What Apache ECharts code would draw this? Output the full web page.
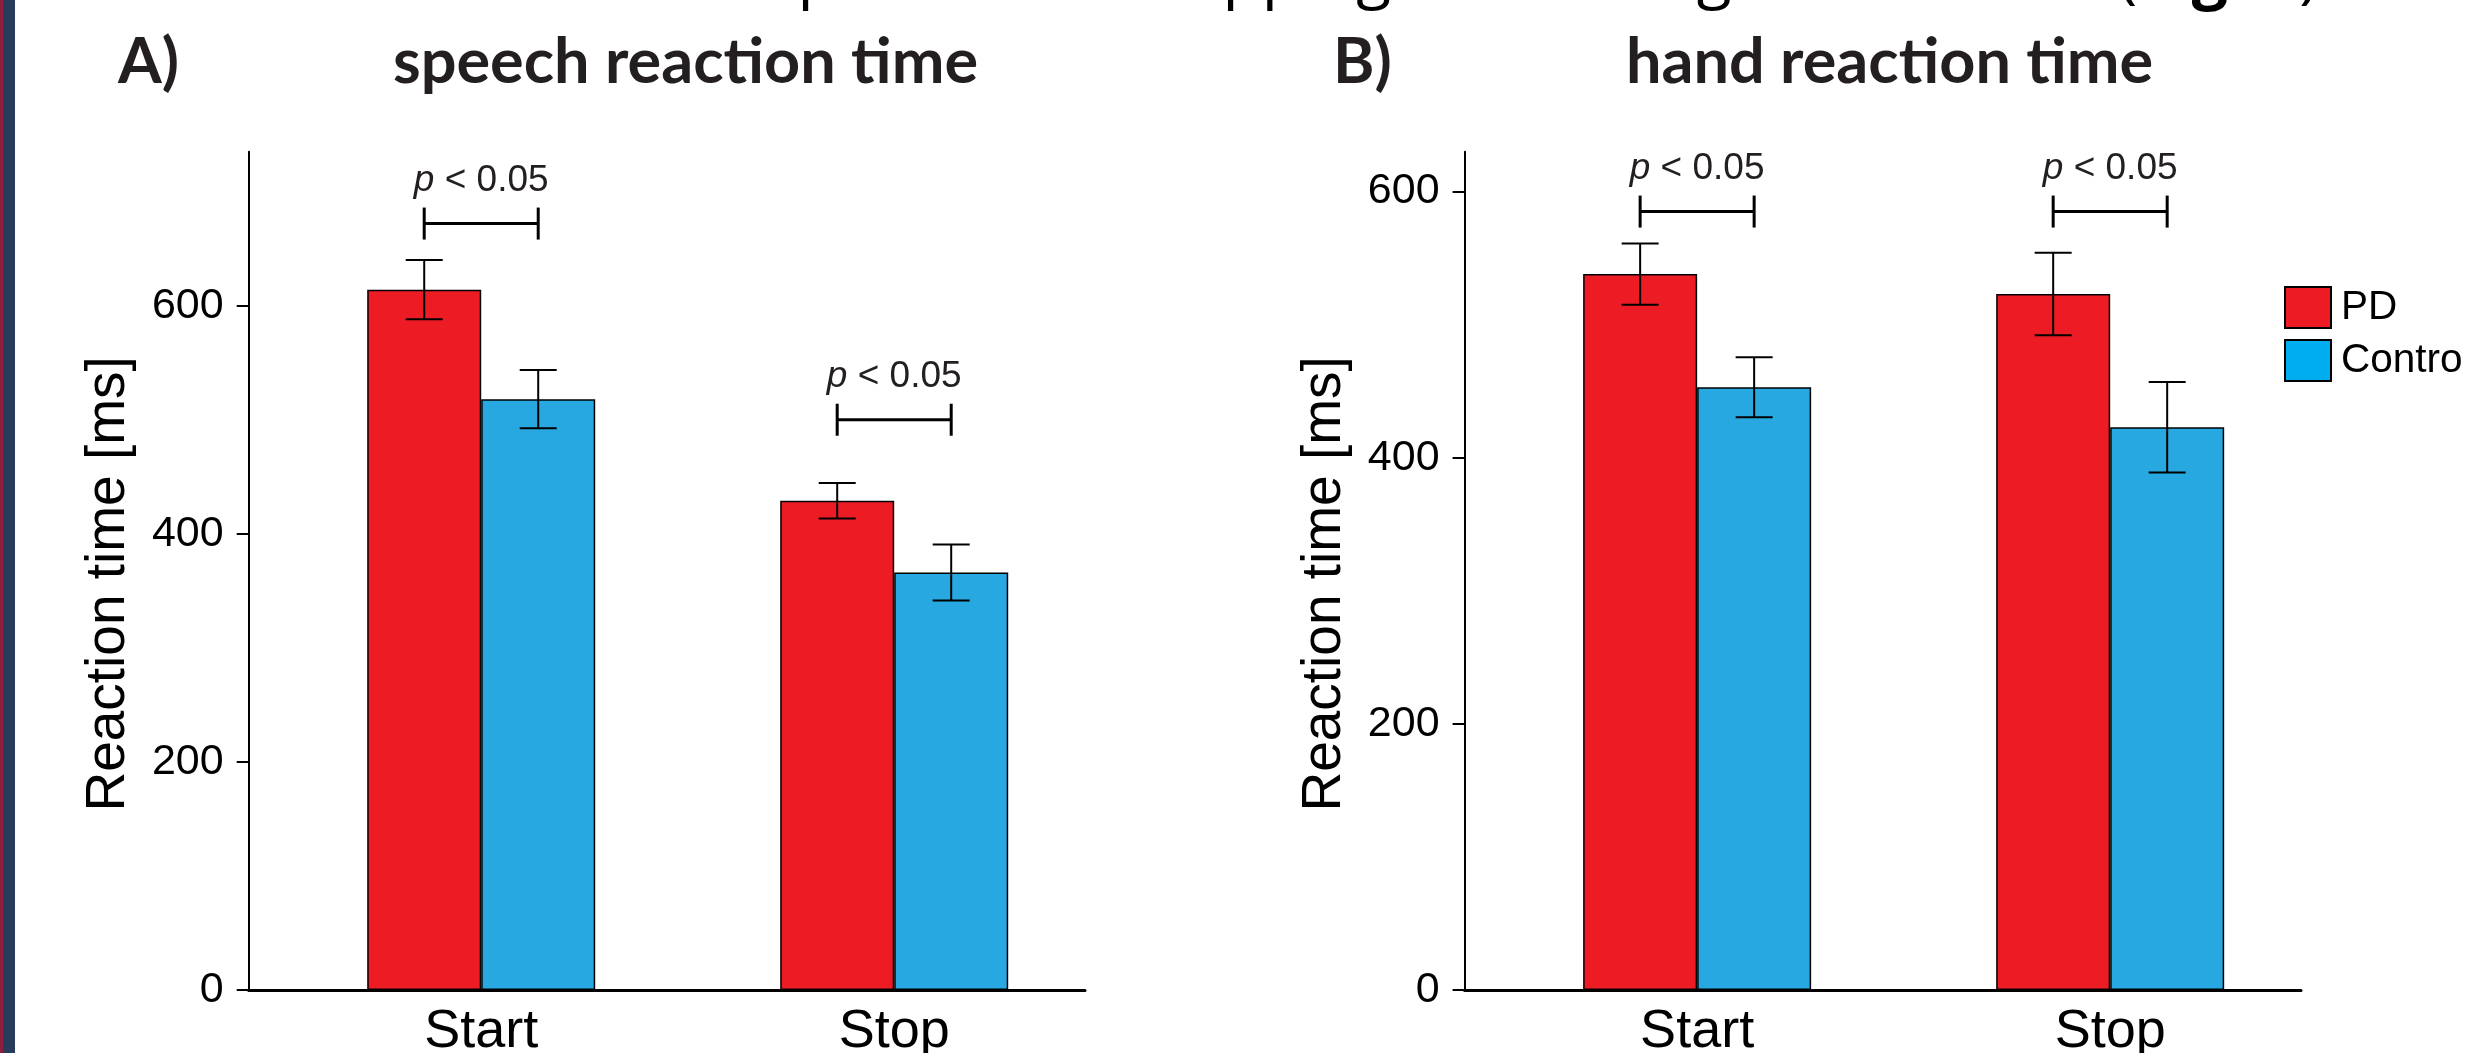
<!DOCTYPE html>
<html><head><meta charset="utf-8">
<script src="https://cdn.jsdelivr.net/npm/echarts@6/dist/echarts.min.js"></script>
<style>html,body{margin:0;padding:0;background:#fff}#c{width:2465px;height:1053px}</style>
</head><body><div id="c"></div>
<script>
// ---- data ----
const categories = ['Start', 'Stop'];
const groupNames = ['PD', 'Control'];
const speechPD = [614, 429];
const speechPDErr = [26, 15.5];
const speechControl = [518, 366];
const speechControlErr = [25.5, 24.5];
const handPD = [538, 523];
const handPDErr = [23, 31];
const handControl = [453, 423];
const handControlErr = [22.5, 34];
const speechBracket = [672, 500];
const handBracket = [585, 585];
const pLabel = '< 0.05';
const yTicks = [0, 200, 400, 600];
const panelTitles = ['speech reaction time', 'hand reaction time'];
const panelLetters = ['A)', 'B)'];
const yAxisTitle = 'Reaction time [ms]';
const topSentence = ['and faster responses for stopping vs. starting movements (', 'Fig. 2', ').'];

// ---- style ----
const RED = '#ED1C24', BLUE = '#27A8E0', LEGEND_BLUE = '#00AEEF', INK = '#231F20';
const BAR_W = 114;
const AX_FONT = 'Liberation Sans, Arial, Helvetica, sans-serif';
const catPos = categories.map((c, i) => i + 1);

const chart = echarts.init(document.getElementById('c'), null, {renderer: 'canvas'});

function pairs(vals, errs) { return vals.map((v, i) => errs ? [catPos[i], v, errs[i]] : [catPos[i], v]); }

function errRender(side) {
  return function (params, api) {
    const x = api.value(0), m = api.value(1), e = api.value(2);
    const top = api.coord([x, m + e]);
    const bot = api.coord([x, m - e]);
    const cx = top[0] + side * BAR_W / 2;
    const h = 18.5;
    const st = {stroke: '#000', lineWidth: 2};
    return {type: 'group', children: [
      {type: 'line', shape: {x1: cx, y1: top[1], x2: cx, y2: bot[1]}, style: st},
      {type: 'line', shape: {x1: cx - h, y1: top[1], x2: cx + h, y2: top[1]}, style: st},
      {type: 'line', shape: {x1: cx - h, y1: bot[1], x2: cx + h, y2: bot[1]}, style: st}
    ]};
  };
}
function bracketRender(params, api) {
  const x = api.value(0), v = api.value(1);
  const c = api.coord([x, v]);
  const x1 = c[0] - BAR_W / 2, x2 = c[0] + BAR_W / 2, y = c[1];
  const st = {stroke: '#000', lineWidth: 3};
  return {type: 'group', children: [
    {type: 'line', shape: {x1: x1, y1: y, x2: x2, y2: y}, style: st},
    {type: 'line', shape: {x1: x1, y1: y - 16, x2: x1, y2: y + 16}, style: st},
    {type: 'line', shape: {x1: x2, y1: y - 16, x2: x2, y2: y + 16}, style: st},
    {type: 'text', style: {
      x: c[0], y: y - 43, text: '{i|p} ' + pLabel, align: 'center', verticalAlign: 'middle',
      font: '37px ' + AX_FONT, fill: INK,
      rich: {i: {fontStyle: 'italic', fontSize: 37, fontFamily: AX_FONT, fill: INK}}
    }}
  ]};
}

function yAxisFor(idx, max) {
  return {
    gridIndex: idx, type: 'value', min: 0, max: max, interval: 200,
    name: yAxisTitle, nameLocation: 'middle', nameGap: 112,
    nameTextStyle: {fontSize: 55, fontFamily: AX_FONT, color: '#000', padding: [0, 26, 0, 0]},
    axisLine: {show: true, lineStyle: {color: '#000', width: 2}},
    axisTick: {show: true, inside: false, length: 12, customValues: yTicks, lineStyle: {color: '#000', width: 2}},
    axisLabel: {customValues: yTicks, fontSize: 43, fontFamily: AX_FONT, color: '#000', margin: 25},
    splitLine: {show: false}
  };
}
function xAxisFor(idx) {
  return {
    gridIndex: idx, type: 'value', min: 0.437, max: 2.462,
    axisLine: {show: true, onZero: true, lineStyle: {color: '#000', width: 3}},
    axisTick: {show: false},
    axisLabel: {customValues: catPos, formatter: v => categories[Math.round(v) - 1] || '',
      fontSize: 54, fontFamily: AX_FONT, color: '#000', margin: 15},
    splitLine: {show: false}
  };
}
const barStyle = c => ({color: c, borderColor: '#000', borderWidth: 1.5});
const TITLE_FONT = 'bold 63px Lato';

const option = {
  backgroundColor: '#fff',
  animation: false,
  graphic: [
    {type: 'rect', left: 0, top: 0, shape: {width: 15, height: 1053}, style: {fill: '#273B5C'}, silent: true},
    {type: 'rect', left: 0, top: 0, shape: {width: 3, height: 1053}, style: {fill: '#8E1F3E'}, silent: true},
    {type: 'text', x: 2335, y: -22, silent: true, style: {
      text: '{a|' + topSentence[0] + '}{b|' + topSentence[1] + '}{a|' + topSentence[2] + '}',
      align: 'right', verticalAlign: 'middle',
      rich: {a: {fontSize: 64, fontFamily: 'Open Sans', fill: '#000'},
             b: {fontSize: 64, fontFamily: 'Open Sans', fontWeight: 'bold', fill: '#000'}}
    }},
    {type: 'text', x: 118, y: 63, silent: true, style: {text: panelLetters[0], font: TITLE_FONT, fill: INK, verticalAlign: 'middle'}},
    {type: 'text', x: 393, y: 63, silent: true, style: {text: panelTitles[0], font: TITLE_FONT, fill: INK, verticalAlign: 'middle'}},
    {type: 'text', x: 1333, y: 63, silent: true, style: {text: panelLetters[1], font: TITLE_FONT, fill: INK, verticalAlign: 'middle'}},
    {type: 'text', x: 1626, y: 63, silent: true, style: {text: panelTitles[1], font: TITLE_FONT, fill: INK, verticalAlign: 'middle'}}
  ],
  legend: {
    orient: 'vertical', left: 2279, top: 281, itemWidth: 46, itemHeight: 41, itemGap: 10,
    icon: 'rect', selectedMode: false,
    textStyle: {fontSize: 40.5, fontFamily: AX_FONT, color: '#000', padding: [0, 0, 0, 5]},
    itemStyle: {borderColor: '#000', borderWidth: 2},
    data: [{name: groupNames[0], itemStyle: {color: RED}}, {name: groupNames[1], itemStyle: {color: LEGEND_BLUE}}]
  },
  grid: [
    {left: 248.7, top: 151.7, width: 836.3, height: 838.3, outerBoundsMode: 'none', containLabel: false},
    {left: 1464.6, top: 151.7, width: 836.4, height: 838.3, outerBoundsMode: 'none', containLabel: false}
  ],
  xAxis: [xAxisFor(0), xAxisFor(1)],
  yAxis: [yAxisFor(0, 735), yAxisFor(1, 630)],
  series: [
    {type: 'bar', name: groupNames[0], xAxisIndex: 0, yAxisIndex: 0, barWidth: BAR_W, barGap: '0%', itemStyle: barStyle(RED), data: pairs(speechPD)},
    {type: 'bar', name: groupNames[1], xAxisIndex: 0, yAxisIndex: 0, barWidth: BAR_W, barGap: '0%', itemStyle: barStyle(BLUE), data: pairs(speechControl)},
    {type: 'bar', name: groupNames[0], xAxisIndex: 1, yAxisIndex: 1, barWidth: BAR_W, barGap: '0%', itemStyle: barStyle(RED), data: pairs(handPD)},
    {type: 'bar', name: groupNames[1], xAxisIndex: 1, yAxisIndex: 1, barWidth: BAR_W, barGap: '0%', itemStyle: barStyle(BLUE), data: pairs(handControl)},
    {type: 'custom', xAxisIndex: 0, yAxisIndex: 0, z: 5, renderItem: errRender(-1), data: pairs(speechPD, speechPDErr)},
    {type: 'custom', xAxisIndex: 0, yAxisIndex: 0, z: 5, renderItem: errRender(1), data: pairs(speechControl, speechControlErr)},
    {type: 'custom', xAxisIndex: 1, yAxisIndex: 1, z: 5, renderItem: errRender(-1), data: pairs(handPD, handPDErr)},
    {type: 'custom', xAxisIndex: 1, yAxisIndex: 1, z: 5, renderItem: errRender(1), data: pairs(handControl, handControlErr)},
    {type: 'custom', xAxisIndex: 0, yAxisIndex: 0, z: 5, renderItem: bracketRender, data: pairs(speechBracket)},
    {type: 'custom', xAxisIndex: 1, yAxisIndex: 1, z: 5, renderItem: bracketRender, data: pairs(handBracket)}
  ]
};
chart.setOption(option);
</script></body></html>
